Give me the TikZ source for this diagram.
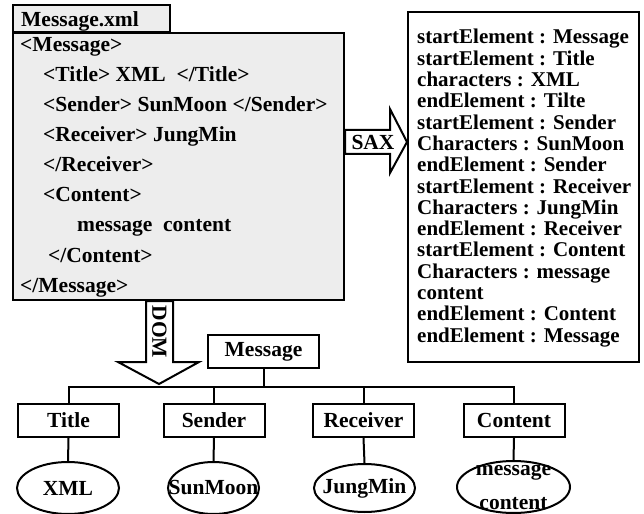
\documentclass[tikz,border=0pt]{standalone}
\usepackage{fontspec}
\setmainfont{Liberation Serif}
\usetikzlibrary{shapes.geometric}
\definecolor{boxgray}{HTML}{EDEDED}
\begin{document}
\begin{tikzpicture}[x=1bp,y=-1bp,
  every node/.style={font=\fontsize{21.5bp}{30bp}\selectfont\bfseries},
  box/.style={draw, line width=2bp, inner sep=0pt},
  txt/.style={anchor=base west, inner sep=0pt},
  evt/.style={txt, font=\fontsize{21bp}{21bp}\selectfont\bfseries},
  tbox/.style={box, minimum width=101bp, minimum height=33bp},
  leaf/.style={draw, line width=2bp, ellipse, inner sep=0pt, minimum height=52bp},
  link/.style={line width=2bp},
  blockarrow/.style={draw, fill=white, line width=2bp, line join=miter}
]
\useasboundingbox (0,0) rectangle (644,514);

% XML document
\node[box, fill=boxgray, minimum width=331bp, minimum height=267bp] (xml) at (178.5,166.5) {};
\node[box, fill=boxgray, minimum width=157bp, minimum height=27bp] (tab) at (91.5,18.5) {};
\node[txt] (tabtxt) at (21,27) {Message.xml};
\node[txt] (l1) at (20,52) {<Message>};
\node[txt] (l2) at (43,82) {<Title> XML~ </Title>};
\node[txt] (l3) at (43,112) {<Sender> SunMoon </Sender>};
\node[txt] (l4) at (43,142) {<Receiver> JungMin};
\node[txt] (l5) at (43,172) {</Receiver>};
\node[txt] (l6) at (43,202) {<Content>};
\node[txt] (l7) at (77,232) {message~ content};
\node[txt] (l8) at (48,262) {</Content>};
\node[txt] (l9) at (20,292) {</Message>};

% SAX events
\node[box, minimum width=231bp, minimum height=350bp] (rbox) at (523.5,187) {};
\foreach \t [count=\i from 0] in {startElement : Message, startElement : Title, characters : XML, endElement : Tilte, startElement : Sender, Characters : SunMoon, endElement : Sender, startElement : Receiver, Characters : JungMin, endElement : Receiver, startElement : Content, Characters : message, content, endElement : Content, endElement : Message}
  \node[evt] (r\i) at (417,44+21.3*\i) {\t};

% SAX arrow
\draw[blockarrow] (xml.east |- 0,130) -- (390,130) -- (390,109) -- (rbox.west |- 0,142) -- (390,173) -- (390,154) -- (xml.east |- 0,154) -- cycle;
\node (sax) at (373,142) {SAX};

% DOM arrow
\draw[blockarrow] (146,0 |- xml.south) -- (146,362) -- (118,362) -- (159,384) -- (199,362) -- (173,362) -- (173,0 |- xml.south) -- cycle;
\node[rotate=-90] (dom) at (159.5,332) {DOM};

% DOM tree
\node[tbox, minimum width=111bp] (msg) at (263.5,351.5) {Message};
\node[tbox] (tTitle) at (68.5,420.5) {Title};
\node[tbox] (tSender) at (214,420.5) {Sender};
\node[tbox] (tReceiver) at (363.5,420.5) {Receiver};
\node[tbox] (tContent) at (514,420.5) {Content};
\coordinate (bus) at (0,387);
\draw[link] (msg.south) -- (msg.south |- bus);
\draw[link] (tTitle.north) -- (tTitle.north |- bus) -- (tContent.north |- bus) -- (tContent.north);
\draw[link] (tSender.north) -- (tSender.north |- bus);
\draw[link] (tReceiver.north) -- (tReceiver.north |- bus);

\node[leaf, minimum width=102bp, label={[name=vXML]center:XML}] (eXML) at (68,488) {};
\node[leaf, minimum width=91bp, label={[name=vSun]center:SunMoon}] (eSun) at (213.5,488) {};
\node[leaf, minimum width=101bp, minimum height=48bp, label={[name=vJung]center:JungMin}] (eJung) at (364.5,488) {};
\node[leaf, minimum width=113bp, label={[name=vCont, align=center, font=\fontsize{21.5bp}{34bp}\selectfont\bfseries]center:message\\content}] (eCont) at (513.5,487) {};
\draw[link] (tTitle.south) -- (eXML.north);
\draw[link] (tSender.south) -- (eSun.north);
\draw[link] (tReceiver.south) -- (eJung.north);
\draw[link] (tContent.south) -- (eCont.north);
\end{tikzpicture}
\end{document}
